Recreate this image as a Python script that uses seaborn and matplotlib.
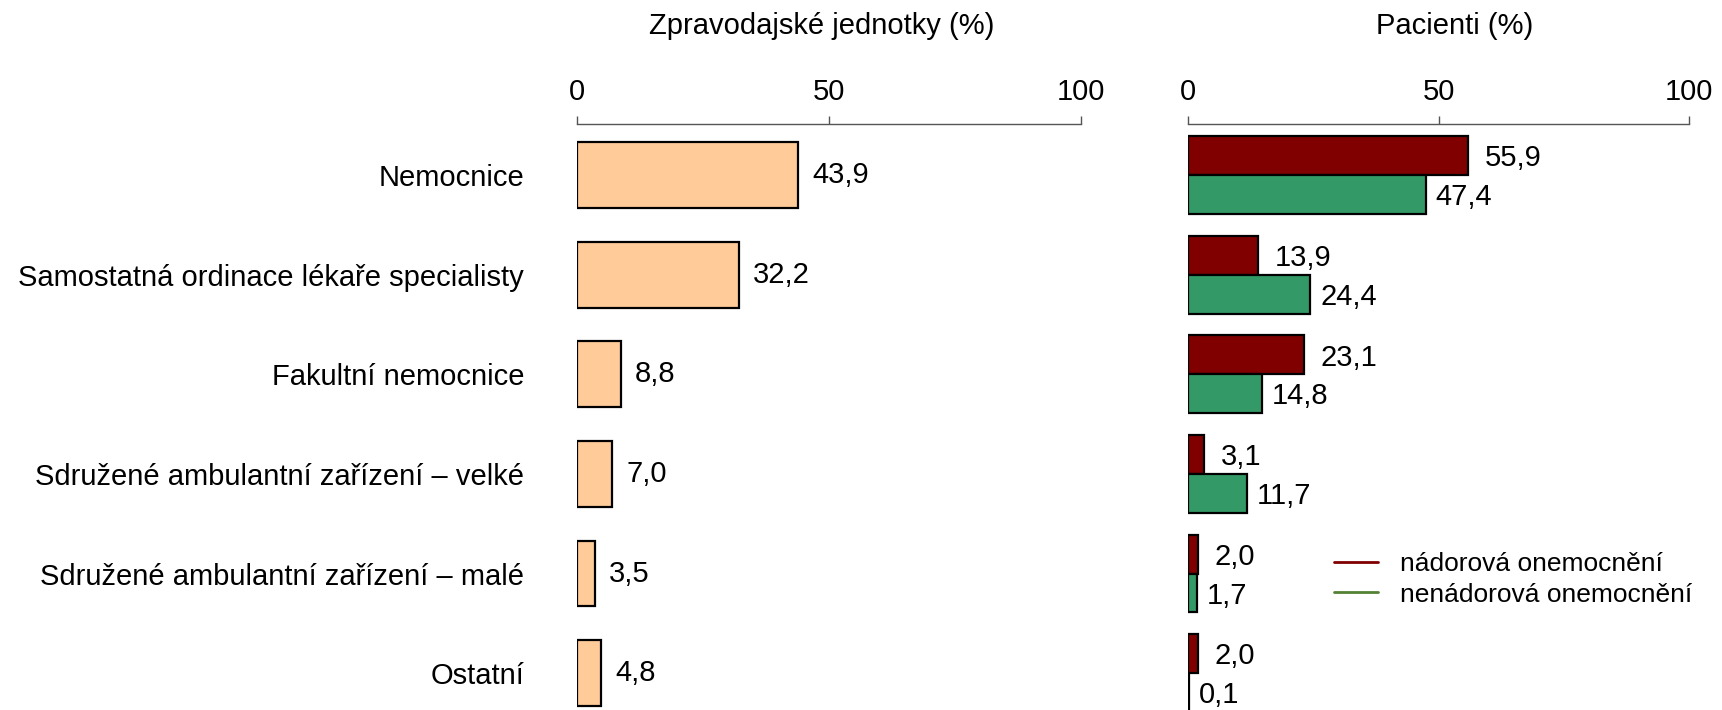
import pandas as pd
import numpy as np
import matplotlib
matplotlib.use('Agg')
import matplotlib.pyplot as plt
from matplotlib.lines import Line2D
import seaborn as sns

sns.set_style('white')
plt.rcParams['font.family'] = ['Liberation Sans', 'DejaVu Sans']
plt.rcParams['font.size'] = 21
plt.rcParams['text.color'] = 'black'
plt.rcParams['xtick.labelcolor'] = 'black'
plt.rcParams['ytick.labelcolor'] = 'black'

categories = ['Nemocnice', 'Samostatná ordinace lékaře specialisty', 'Fakultní nemocnice',
              'Sdružené ambulantní zařízení – velké', 'Sdružené ambulantní zařízení – malé', 'Ostatní']
jednotky = [43.9, 32.2, 8.8, 7.0, 3.5, 4.8]
nadorova = [55.9, 13.9, 23.1, 3.1, 2.0, 2.0]
nenadorova = [47.4, 24.4, 14.8, 11.7, 1.7, 0.1]
series = ['nádorová onemocnění', 'nenádorová onemocnění']

def fmt(v):
    return f'{v:.1f}'.replace('.', ',')

df_left = pd.DataFrame({'kat': categories, 'val': jednotky})
df_right = pd.DataFrame({
    'kat': categories * 2,
    'val': nadorova + nenadorova,
    'typ': [series[0]] * len(categories) + [series[1]] * len(categories),
})

fig = plt.figure(figsize=(17.22, 7.10), dpi=100)
ax1 = fig.add_axes([0.335, 0.0, 0.293, 0.825])
ax2 = fig.add_axes([0.690, 0.0, 0.291, 0.825])

sns.barplot(data=df_left, x='val', y='kat', color='#FFCC99', width=0.66,
            edgecolor='black', linewidth=1.6, ax=ax1, saturation=1)
sns.barplot(data=df_right, x='val', y='kat', hue='typ', hue_order=series,
            palette=['#800000', '#339966'], width=0.78, dodge=True,
            edgecolor='black', linewidth=1.6, ax=ax2, saturation=1, legend=False)

for ax in (ax1, ax2):
    ax.set_xlim(0, 100)
    ax.set_ylim(5.37, -0.51)
    ax.set_xticks([0, 50, 100])
    ax.xaxis.tick_top()
    ax.tick_params(axis='x', direction='out', length=6, width=1, color='#555555', pad=7,
                   labelsize=21)
    ax.tick_params(axis='y', length=0)
    for s in ('left', 'right', 'bottom'):
        ax.spines[s].set_visible(False)
    ax.spines['top'].set_color('#555555')
    ax.spines['top'].set_linewidth(1)
    ax.set_xlabel('')
    ax.set_ylabel('')

ax1.tick_params(axis='y', pad=38, labelsize=21)
ax2.set_yticklabels([])

for i, v in enumerate(jednotky):
    ax1.annotate(fmt(v), (v, i), xytext=(10, 0), textcoords='offset points',
                 va='center', ha='left', fontsize=21)
for i, (a, b) in enumerate(zip(nadorova, nenadorova)):
    ax2.annotate(fmt(a), (a, i - 0.195), xytext=(12, -2), textcoords='offset points',
                 va='center', ha='left', fontsize=21)
    ax2.annotate(fmt(b), (b, i + 0.195), xytext=(7, -2), textcoords='offset points',
                 va='center', ha='left', fontsize=21)

fig.text(0.477, 0.963, 'Zpravodajské jednotky (%)', ha='center', va='center', fontsize=21)
fig.text(0.845, 0.963, 'Pacienti (%)', ha='center', va='center', fontsize=21)

handles = [Line2D([0], [0], color='#800000', lw=2), Line2D([0], [0], color='#548235', lw=2)]
fig.legend(handles, series, loc='center left', bbox_to_anchor=(0.761, 0.184), frameon=False,
           fontsize=19, handlelength=1.65, labelspacing=0.25, handletextpad=0.85)

fig.savefig('out.png', dpi=100)
